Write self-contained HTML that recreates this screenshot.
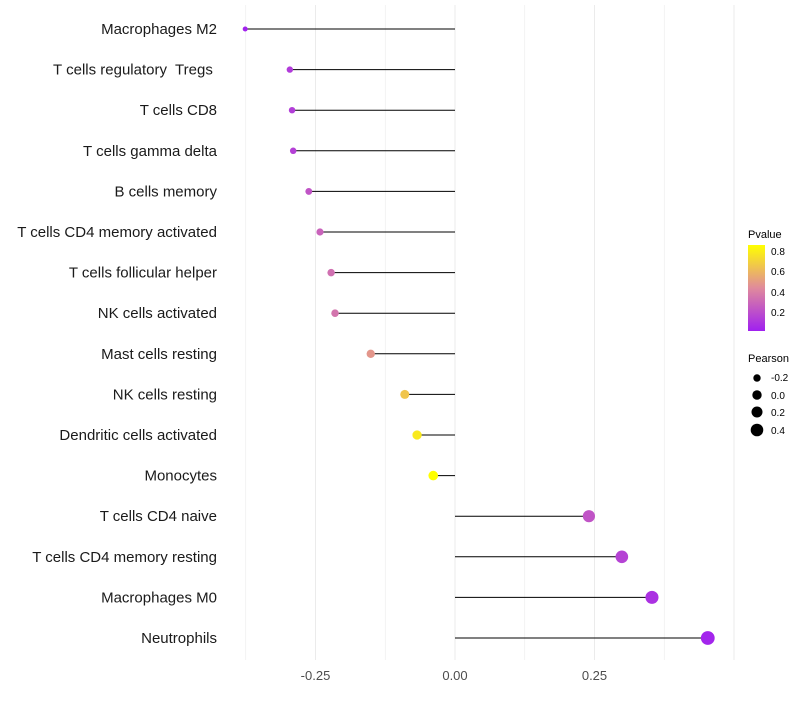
<!DOCTYPE html>
<html><head><meta charset="utf-8"><style>
body{margin:0;background:#fff;font-family:"Liberation Sans",sans-serif}
</style></head><body>
<svg id="chart" width="800" height="700" xmlns="http://www.w3.org/2000/svg">
<defs><linearGradient id="pg" x1="0" y1="1" x2="0" y2="0">
<stop offset="0" stop-color="#a020f0"/><stop offset="0.5" stop-color="#e08a9c"/><stop offset="1" stop-color="#ffff00"/></linearGradient></defs>
<g id="grid"></g><g id="marks"></g><g id="labels"></g>
<g font-size="10" fill="#000">
<text x="748" y="238" font-size="11">Pvalue</text>
<rect x="748" y="245" width="17" height="86" fill="url(#pg)"/>
<text x="771" y="255">0.8</text><text x="771" y="275">0.6</text><text x="771" y="296">0.4</text><text x="771" y="316">0.2</text>
</g>
<g font-size="10">
<text x="748" y="362" font-size="11">Pearson</text>
<circle cx="757" cy="378" r="3.7"/><text x="771" y="381">-0.2</text>
<circle cx="757" cy="395" r="4.7"/><text x="771" y="399">0.0</text>
<circle cx="757" cy="412" r="5.5"/><text x="771" y="416">0.2</text>
<circle cx="757" cy="430" r="6.3"/><text x="771" y="434">0.4</text>
</g>
</svg>
<script>
const categories=["Macrophages M2","T cells regulatory  Tregs ","T cells CD8","T cells gamma delta","B cells memory","T cells CD4 memory activated","T cells follicular helper","NK cells activated","Mast cells resting","NK cells resting","Dendritic cells activated","Monocytes","T cells CD4 naive","T cells CD4 memory resting","Macrophages M0","Neutrophils"];
const pearson=[-0.376,-0.296,-0.292,-0.290,-0.262,-0.242,-0.222,-0.215,-0.151,-0.090,-0.068,-0.039,0.240,0.299,0.353,0.453];
const pvalues=[0.02,0.12,0.13,0.14,0.22,0.28,0.33,0.35,0.48,0.65,0.78,0.86,0.22,0.15,0.08,0.03];
const xTicks=[-0.25,0,0.25];
const xTickLabels=["-0.25","0.00","0.25"];
const NS="http://www.w3.org/2000/svg";
const x=v=>455+v*558;
const y=i=>29+i*40.6;
const r=v=>Math.sqrt(Math.max(3,15+50*(v+0.2)));
function lerp(a,b,t){return a.map((c,k)=>Math.round(c+(b[k]-c)*t));}
function color(p){const t=Math.min(1,Math.max(0,(p-0.01)/0.85));
 const A=[160,32,240],M=[224,138,156],B=[255,255,0];
 const c=t<0.5?lerp(A,M,t/0.5):lerp(M,B,(t-0.5)/0.5);return `rgb(${c.join(',')})`;}
function mk(tag,attrs,parent){const e=document.createElementNS(NS,tag);for(const k in attrs)e.setAttribute(k,attrs[k]);parent.appendChild(e);return e;}
const grid=document.getElementById('grid'),marks=document.getElementById('marks'),labels=document.getElementById('labels');
for(let v=-0.375;v<=0.5;v+=0.125){const l=mk('line',{x1:x(v),x2:x(v),y1:5,y2:660,stroke:'#ebebeb','stroke-width':Math.abs(v*4-Math.round(v*4))<1e-6?1:0.6},grid);

}
xTicks.forEach((v,i)=>{const t=mk('text',{x:x(v),y:680,'text-anchor':'middle','font-size':13,fill:'#4d4d4d'},labels);t.textContent=xTickLabels[i];

});
categories.forEach((c,i)=>{
 const t=mk('text',{x:217,y:y(i)+5,'text-anchor':'end','font-size':15,fill:'#1a1a1a'},labels);t.textContent=c;
 t.setAttribute('xml:space','preserve');
 t.style.whiteSpace='pre';
 
 
 const l=mk('line',{x1:x(0),x2:x(pearson[i]),y1:y(i),y2:y(i),stroke:'#000','stroke-width':1},marks);
 
 
 const p=mk('circle',{cx:x(pearson[i]),cy:y(i),r:r(pearson[i]),fill:color(pvalues[i])},marks);
 
 
});
</script>
</body></html>
